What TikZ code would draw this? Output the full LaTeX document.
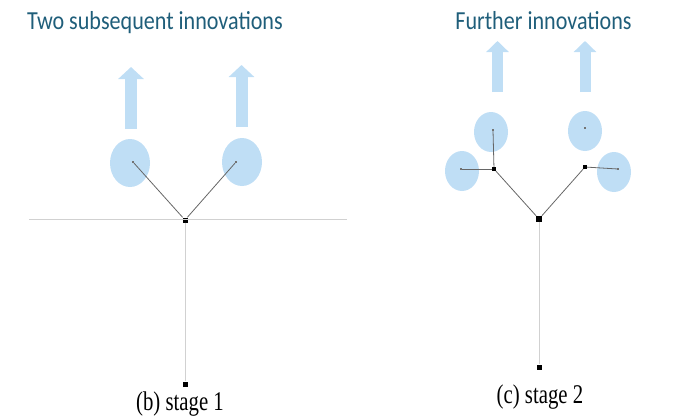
\documentclass[tikz,border=0pt]{standalone}
\usepackage{fontspec}
\setmainfont{Liberation Serif}
\newfontfamily\titlefont{Carlito}
\usetikzlibrary{positioning,shapes.geometric,arrows.meta}
\definecolor{titolo}{RGB}{31,94,122}
\definecolor{azzurro}{RGB}{191,222,245}
\newcommand{\stretto}[2]{\scalebox{#1}[1]{#2}}

\begin{document}
\begin{tikzpicture}[x=1pt,y=-1pt,
		bolla/.style={ellipse, fill=azzurro, inner sep=0pt},
		punto/.style={fill=black, inner sep=0pt, minimum size=5pt},
		foglia/.style={fill=black!55, inner sep=0pt, minimum size=1.6pt},
		ramo/.style={draw=black!60, line width=0.8pt},
		asse/.style={draw=black!18, line width=0.9pt},
		freccia/.style={draw=azzurro, line width=12pt, -{Triangle[width=25pt,length=12pt]}},
		frecciina/.style={draw=azzurro, line width=11pt, -{Triangle[width=22pt,length=11pt]}},
		titolo/.style={font=\titlefont\fontsize{26}{30}\selectfont, text=titolo, anchor=base, inner sep=0pt},
		didascalia/.style={font=\fontsize{27}{30}\selectfont, anchor=base, inner sep=0pt}]
				\useasboundingbox (0,0) rectangle (681,416);
				
				% Titoli
				\node[titolo] (t1) at (155, 29) {\stretto{0.85}{Two subsequent innovations}};
				\node[titolo] (t2) at (543.5, 29) {\stretto{0.85}{Further innovations}};
				
				% Stadio 1
				\node[bolla, minimum width=40pt, minimum height=48pt] (b1) at (130, 163) {};
				\node[bolla, minimum width=40pt, minimum height=48pt] (b2) at (242, 162) {};
				\node[foglia] (f1) at (133, 162) {};
				\node[foglia] (f2) at (236, 162) {};
				\node[punto] (r1) at (185, 220) {};
				\node[punto] (s1) at (185, 384) {};
				\coordinate (h1) at (29, 219);
				\coordinate (h2) at (347, 219);
				\draw[asse] (h1) -- (h2);
				\draw[asse] (r1) -- (s1);
				\draw[ramo] (f1) -- (r1);
				\draw[ramo] (f2) -- (r1);
				\coordinate (a1) at (131, 129);
				\coordinate (a1t) at (131, 67);
				\coordinate (a2) at (241.5, 127);
				\coordinate (a2t) at (241.5, 65);
				\draw[freccia] (a1) -- (a1t);
				\draw[freccia] (a2) -- (a2t);
				\node[didascalia] (l1) at (180, 410) {\stretto{0.77}{(b) stage 1}};
				
				% Stadio 2
				\node[bolla, minimum width=34pt, minimum height=40pt] (c1) at (491, 132) {};
				\node[bolla, minimum width=34pt, minimum height=40pt] (c2) at (462, 171) {};
				\node[bolla, minimum width=34pt, minimum height=40pt] (c3) at (585, 131) {};
				\node[bolla, minimum width=34pt, minimum height=40pt] (c4) at (614, 172) {};
				\node[foglia] (g1) at (493, 130) {};
				\node[foglia] (g2) at (461, 169) {};
				\node[foglia] (g3) at (585, 128) {};
				\node[foglia] (g4) at (618, 169) {};
				\node[punto, minimum size=4pt] (n1) at (494, 169) {};
				\node[punto, minimum size=4pt] (n2) at (585, 167) {};
				\node[punto, minimum size=6pt] (r2) at (539, 219) {};
				\node[punto] (s2) at (539, 367) {};
				\draw[asse] (r2) -- (s2);
				\draw[ramo] (n1) -- (r2);
				\draw[ramo] (n2) -- (r2);
				\draw[ramo] (g1) -- (n1);
				\draw[ramo] (g2) -- (n1);
				\draw[ramo] (g4) -- (n2);
				\coordinate (a3) at (497.5, 92);
				\coordinate (a3t) at (497.5, 41);
				\coordinate (a4) at (585, 92);
				\coordinate (a4t) at (585, 41);
				\draw[frecciina] (a3) -- (a3t);
				\draw[frecciina] (a4) -- (a4t);
				\node[didascalia] (l2) at (540, 403) {\stretto{0.77}{(c) stage 2}};
			\end{tikzpicture}
\end{document}
